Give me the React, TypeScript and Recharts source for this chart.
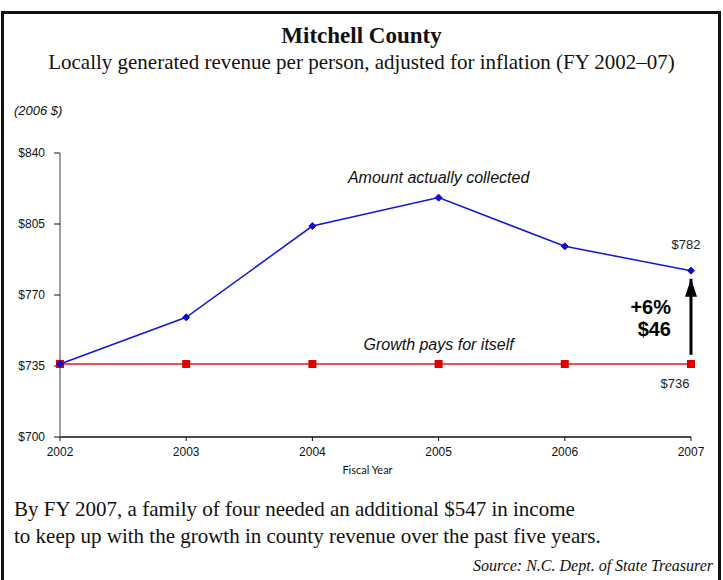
import React from "react";
import {
  LineChart,
  Line,
  XAxis,
  YAxis,
  ReferenceLine,
  ReferenceDot,
} from "recharts";

const years = [2002, 2003, 2004, 2005, 2006, 2007];
const collected = [736, 759, 804, 818, 794, 782];
const growthPays = [736, 736, 736, 736, 736, 736];
const yTicks = [700, 735, 770, 805, 840];

const data = years.map((y, i) => ({
  year: y,
  collected: collected[i],
  growth: growthPays[i],
}));

const SANS = "'Liberation Sans', Arial, sans-serif";
const SERIF = "'Liberation Serif', 'Times New Roman', serif";

const Diamond = (props: any) => {
  const { cx, cy } = props;
  if (cx == null || cy == null) return null;
  const r = 3.5;
  return (
    <polygon
      points={`${cx},${cy - r} ${cx + r},${cy} ${cx},${cy + r} ${cx - r},${cy}`}
      fill="#0a0ad0"
      stroke="#0a0ad0"
    />
  );
};

const Square = (props: any) => {
  const { cx, cy } = props;
  if (cx == null || cy == null) return null;
  const s = 8;
  return <rect x={cx - s / 2} y={cy - s / 2} width={s} height={s} fill="#dd0000" />;
};

const lastLabel = (dx: number, dy: number) => (props: any) => {
  const { x, y, value, index } = props;
  if (index !== years.length - 1) return null;
  return (
    <text
      x={x + dx}
      y={y + dy}
      textAnchor="middle"
      dominantBaseline="central"
      fontFamily={SANS}
      fontSize={13}
      fill="#222"
    >
      ${value}
    </text>
  );
};

export default function App() {
  return (
    <div
      style={{
        position: "absolute",
        left: 0,
        top: 0,
        width: 723,
        height: 580,
        background: "#fff",
        overflow: "hidden",
      }}
    >
      <div
        style={{
          position: "absolute",
          left: 1,
          top: 11,
          width: 714,
          height: 600,
          border: "3px solid #111",
        }}
      />
      <div
        style={{
          position: "absolute",
          left: 0,
          width: 723,
          top: 22,
          textAlign: "center",
          fontFamily: SERIF,
          fontWeight: "bold",
          fontSize: 23,
          lineHeight: "27px",
          color: "#111",
        }}
      >
        Mitchell County
      </div>
      <div
        style={{
          position: "absolute",
          left: 0,
          width: 723,
          top: 49,
          textAlign: "center",
          fontFamily: SERIF,
          fontSize: 21,
          lineHeight: "26px",
          color: "#111",
        }}
      >
        Locally generated revenue per person, adjusted for inflation (FY 2002–07)
      </div>
      <div
        style={{
          position: "absolute",
          left: 14,
          top: 103,
          fontFamily: SANS,
          fontStyle: "italic",
          fontSize: 13,
          lineHeight: "16px",
          color: "#111",
        }}
      >
        (2006 $)
      </div>

      <div style={{ position: "absolute", left: 0, top: 0 }}>
        <LineChart
          width={723}
          height={580}
          data={data}
          margin={{ top: 153, right: 32, bottom: 113, left: 10 }}
        >
          <defs>
            <marker
              id="arrowHead"
              viewBox="0 0 12 18"
              refX="6"
              refY="0"
              markerWidth="12"
              markerHeight="18"
              markerUnits="userSpaceOnUse"
              orient="0"
            >
              <polygon points="6,0 12,18 0,18" fill="#000" />
            </marker>
          </defs>
          <XAxis
            dataKey="year"
            type="number"
            domain={[2002, 2007]}
            ticks={years}
            height={30}
            axisLine={{ stroke: "#111", strokeWidth: 1.5 }}
            tickLine={{ stroke: "#111" }}
            tickSize={4}
            tickMargin={6}
            tick={{ fill: "#111", fontSize: 12, fontFamily: SANS }}
          />
          <YAxis
            domain={[700, 840]}
            ticks={yTicks}
            width={50}
            axisLine={{ stroke: "#808080", strokeWidth: 1.5 }}
            tickLine={{ stroke: "#111" }}
            tickSize={6}
            tickMargin={9}
            tick={{ fill: "#111", fontSize: 12, fontFamily: SANS }}
            tickFormatter={(v: number) => `$${v}`}
          />
          <ReferenceLine
            segment={[
              { x: 2007, y: 740.5 },
              { x: 2007, y: 778 },
            ]}
            stroke="#000"
            strokeWidth={3}
            markerEnd="url(#arrowHead)"
            ifOverflow="visible"
          />
          <Line
            dataKey="growth"
            stroke="#e01a1a"
            strokeWidth={1.5}
            dot={<Square />}
            isAnimationActive={false}
            label={lastLabel(-16, 20)}
          />
          <Line
            dataKey="collected"
            stroke="#1414e0"
            strokeWidth={1.5}
            dot={<Diamond />}
            isAnimationActive={false}
            label={lastLabel(-5, -26)}
          />
          <ReferenceDot
            x={2005}
            y={828}
            r={0}
            ifOverflow="visible"
            label={{
              value: "Amount actually collected",
              position: "center",
              fontFamily: SANS,
              fontStyle: "italic",
              fontSize: 16,
              fill: "#111",
            }}
          />
          <ReferenceDot
            x={2005}
            y={745.8}
            r={0}
            ifOverflow="visible"
            label={{
              value: "Growth pays for itself",
              position: "center",
              fontFamily: SANS,
              fontStyle: "italic",
              fontSize: 16,
              fill: "#111",
            }}
          />
          <ReferenceDot
            x={2007}
            y={759}
            r={0}
            ifOverflow="visible"
            label={(p: any) => {
              const vb = p.viewBox || {};
              const cx = (vb.x ?? 0) + (vb.width ?? 0) / 2;
              const cy = (vb.y ?? 0) + (vb.height ?? 0) / 2;
              return (
                <g>
                  <text
                    x={cx - 20}
                    y={cy - 10}
                    textAnchor="end"
                    dominantBaseline="central"
                    fontFamily={SANS}
                    fontWeight="bold"
                    fontSize={20}
                    fill="#000"
                  >
                    +6%
                  </text>
                  <text
                    x={cx - 20}
                    y={cy + 12}
                    textAnchor="end"
                    dominantBaseline="central"
                    fontFamily={SANS}
                    fontWeight="bold"
                    fontSize={20}
                    fill="#000"
                  >
                    $46
                  </text>
                </g>
              );
            }}
          />
        </LineChart>
      </div>

      <div
        style={{
          position: "absolute",
          left: 0,
          width: 735,
          top: 463,
          textAlign: "center",
          fontFamily: "Lato, sans-serif",
          fontSize: 11,
          lineHeight: "14px",
          color: "#111",
        }}
      >
        Fiscal Year
      </div>

      <div
        style={{
          position: "absolute",
          left: 14,
          top: 496,
          fontFamily: SERIF,
          fontSize: 21,
          lineHeight: "27px",
          color: "#111",
        }}
      >
        By FY 2007, a family of four needed an additional $547 in income
        <br />
        to keep up with the growth in county revenue over the past five years.
      </div>
      <div
        style={{
          position: "absolute",
          right: 10,
          top: 556,
          fontFamily: SERIF,
          fontStyle: "italic",
          fontSize: 16,
          lineHeight: "20px",
          color: "#111",
        }}
      >
        Source: N.C. Dept. of State Treasurer
      </div>
    </div>
  );
}
